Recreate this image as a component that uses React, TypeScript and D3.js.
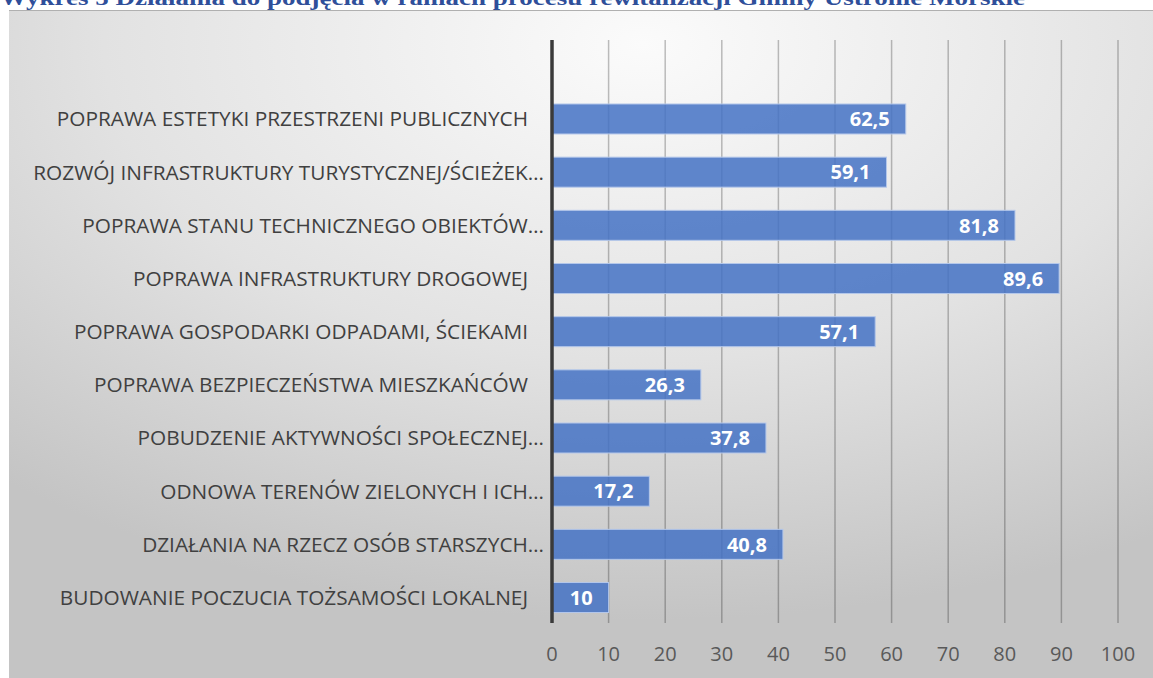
import React from "react";
import * as d3 from "d3";

const categories: string[] = [
  "POPRAWA ESTETYKI PRZESTRZENI PUBLICZNYCH",
  "ROZWÓJ INFRASTRUKTURY TURYSTYCZNEJ/ŚCIEŻEK…",
  "POPRAWA STANU TECHNICZNEGO OBIEKTÓW…",
  "POPRAWA INFRASTRUKTURY DROGOWEJ",
  "POPRAWA GOSPODARKI ODPADAMI, ŚCIEKAMI",
  "POPRAWA BEZPIECZEŃSTWA MIESZKAŃCÓW",
  "POBUDZENIE AKTYWNOŚCI SPOŁECZNEJ…",
  "ODNOWA TERENÓW ZIELONYCH I ICH…",
  "DZIAŁANIA NA RZECZ OSÓB STARSZYCH…",
  "BUDOWANIE POCZUCIA TOŻSAMOŚCI LOKALNEJ",
];
const values: number[] = [62.5, 59.1, 81.8, 89.6, 57.1, 26.3, 37.8, 17.2, 40.8, 10];
const xTicks: number[] = [0, 10, 20, 30, 40, 50, 60, 70, 80, 90, 100];
const title = "Wykres 5 Działania do podjęcia w ramach procesu rewitalizacji Gminy Ustronie Morskie";

const W = 1153;
const H = 678;

export default function App() {
  const x = d3.scaleLinear().domain([0, 100]).range([552, 1118]);
  const y = d3
    .scaleBand<string>()
    .domain(categories)
    .range([92.4, 624.1])
    .paddingInner(0.436)
    .paddingOuter(0.218);
  const axisTop = 40;
  const axisBottom = 623;
  const fmt = (v: number) => String(v).replace(".", ",");
  const sans = "'Open Sans', 'DejaVu Sans', sans-serif";

  return (
    <svg
      width={W}
      height={H}
      style={{ position: "absolute", left: 0, top: 0, background: "#ffffff" }}
    >
      <defs>
        <radialGradient id="bg" cx="0.55" cy="0.05" r="0.85" fx="0.55" fy="0.05">
          <stop offset="0" stopColor="#fbfbfb" />
          <stop offset="0.55" stopColor="#e2e2e2" />
          <stop offset="1" stopColor="#c4c4c4" />
        </radialGradient>
      </defs>
      <text
        x={0}
        y={5}
        fontFamily="'Liberation Serif', 'Times New Roman', serif"
        fontWeight="bold"
        fontSize={22}
        fill="#2f4f9a"
        textLength={1025}
        lengthAdjust="spacingAndGlyphs"
      >
        {title}
      </text>
      <rect x={9} y={10} width={W} height={H} fill="url(#bg)" />
      <line x1={9} x2={W} y1={10.5} y2={10.5} stroke="#b0b0b0" strokeWidth={1} />

      {xTicks.slice(1).map((t) => (
        <line
          key={"g" + t}
          x1={x(t)}
          x2={x(t)}
          y1={axisTop}
          y2={axisBottom}
          stroke="#000"
          strokeOpacity={0.25}
          strokeWidth={1.5}
        />
      ))}

      {categories.map((c, i) => (
        <g key={c}>
          <rect
            x={x(0)}
            y={y(c)!}
            width={x(values[i]) - x(0)}
            height={y.bandwidth()}
            fill="#4472c4"
            fillOpacity={0.85}
            stroke="#b4c7ea"
            strokeWidth={1}
          />
          <text
            x={x(values[i]) - 16}
            y={y(c)! + y.bandwidth() / 2}
            dy="0.36em"
            textAnchor="end"
            fontFamily={sans}
            fontWeight="bold"
            fontSize={20}
            fill="#ffffff"
          >
            {fmt(values[i])}
          </text>
          <text
            x={c.endsWith("…") ? 544 : 528}
            y={y(c)! + y.bandwidth() / 2}
            dy="0.36em"
            textAnchor="end"
            fontFamily={sans}
            fontSize={20.8}
            fill="#404040"
          >
            {c}
          </text>
        </g>
      ))}

      <line
        x1={x(0)}
        x2={x(0)}
        y1={axisTop}
        y2={axisBottom}
        stroke="#3a3a3a"
        strokeWidth={3.5}
      />

      {xTicks.map((t) => (
        <text
          key={"t" + t}
          x={x(t)}
          y={661}
          textAnchor="middle"
          fontFamily={sans}
          fontSize={20}
          fill="#595959"
        >
          {t}
        </text>
      ))}
    </svg>
  );
}
